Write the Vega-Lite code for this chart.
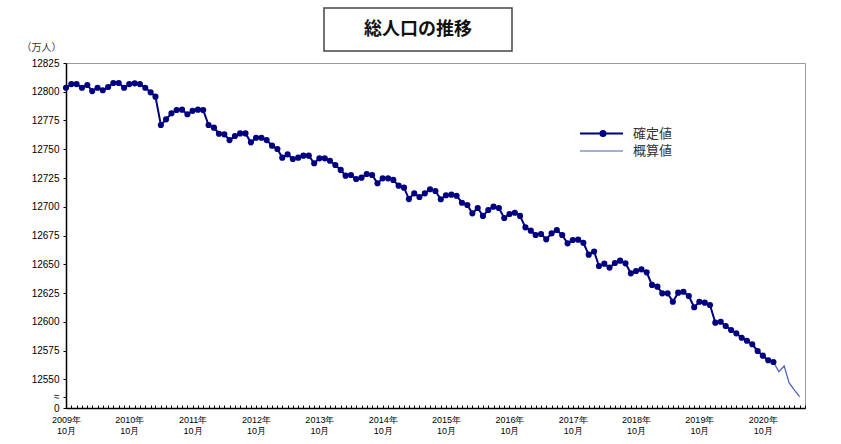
{
"$schema": "https://vega.github.io/schema/vega-lite/v6.json",
"padding": {"left": 20, "top": 7, "right": 5, "bottom": 5},
"background": "white",
"config": {"view": {"stroke": null}, "font": "Liberation Sans"},
"spacing": -11,
"vconcat": [
 {"hconcat": [
   {"width": 100, "height": 43, "data": {"values": [{"t": ""}]},
    "mark": {"type": "text", "fontSize": 10},
    "encoding": {"text": {"field": "t"}}},
   {"width": 188, "height": 43, "view": {"stroke": "#444", "strokeWidth": 1.5}, "data": {"values": [{"t": "総人口の推移"}]},
    "mark": {"type": "text", "fontSize": 18, "fontWeight": "bold", "font": "Noto Sans CJK JP", "color": "#111"},
    "encoding": {"text": {"field": "t"}}}
 ], "spacing": 157},
 {
  "width": 739, "height": 345,
  "view": {"stroke": "#9a9a9a"},
  "data": {"values": [
{"date":"2009-10-01","pop":12803.5,"series":"確定値"},
{"date":"2009-11-01","pop":12806.7,"series":"確定値"},
{"date":"2009-12-01","pop":12806.7,"series":"確定値"},
{"date":"2010-01-01","pop":12803.5,"series":"確定値"},
{"date":"2010-02-01","pop":12805.9,"series":"確定値"},
{"date":"2010-03-01","pop":12800.6,"series":"確定値"},
{"date":"2010-04-01","pop":12803.5,"series":"確定値"},
{"date":"2010-05-01","pop":12801.3,"series":"確定値"},
{"date":"2010-06-01","pop":12804.1,"series":"確定値"},
{"date":"2010-07-01","pop":12807.6,"series":"確定値"},
{"date":"2010-08-01","pop":12807.6,"series":"確定値"},
{"date":"2010-09-01","pop":12803.5,"series":"確定値"},
{"date":"2010-10-01","pop":12806.7,"series":"確定値"},
{"date":"2010-11-01","pop":12807.3,"series":"確定値"},
{"date":"2010-12-01","pop":12806.7,"series":"確定値"},
{"date":"2011-01-01","pop":12803.5,"series":"確定値"},
{"date":"2011-02-01","pop":12799.5,"series":"確定値"},
{"date":"2011-03-01","pop":12795.7,"series":"確定値"},
{"date":"2011-04-01","pop":12771.1,"series":"確定値"},
{"date":"2011-05-01","pop":12776.0,"series":"確定値"},
{"date":"2011-06-01","pop":12781.3,"series":"確定値"},
{"date":"2011-07-01","pop":12784.1,"series":"確定値"},
{"date":"2011-08-01","pop":12784.4,"series":"確定値"},
{"date":"2011-09-01","pop":12780.4,"series":"確定値"},
{"date":"2011-10-01","pop":12783.4,"series":"確定値"},
{"date":"2011-11-01","pop":12784.4,"series":"確定値"},
{"date":"2011-12-01","pop":12784.1,"series":"確定値"},
{"date":"2012-01-01","pop":12771.1,"series":"確定値"},
{"date":"2012-02-01","pop":12768.8,"series":"確定値"},
{"date":"2012-03-01","pop":12763.5,"series":"確定値"},
{"date":"2012-04-01","pop":12763.0,"series":"確定値"},
{"date":"2012-05-01","pop":12758.0,"series":"確定値"},
{"date":"2012-06-01","pop":12761.5,"series":"確定値"},
{"date":"2012-07-01","pop":12763.8,"series":"確定値"},
{"date":"2012-08-01","pop":12763.8,"series":"確定値"},
{"date":"2012-09-01","pop":12756.0,"series":"確定値"},
{"date":"2012-10-01","pop":12760.0,"series":"確定値"},
{"date":"2012-11-01","pop":12760.0,"series":"確定値"},
{"date":"2012-12-01","pop":12758.0,"series":"確定値"},
{"date":"2013-01-01","pop":12753.1,"series":"確定値"},
{"date":"2013-02-01","pop":12750.2,"series":"確定値"},
{"date":"2013-03-01","pop":12742.7,"series":"確定値"},
{"date":"2013-04-01","pop":12745.6,"series":"確定値"},
{"date":"2013-05-01","pop":12741.5,"series":"確定値"},
{"date":"2013-06-01","pop":12742.7,"series":"確定値"},
{"date":"2013-07-01","pop":12744.4,"series":"確定値"},
{"date":"2013-08-01","pop":12744.4,"series":"確定値"},
{"date":"2013-09-01","pop":12737.8,"series":"確定値"},
{"date":"2013-10-01","pop":12742.1,"series":"確定値"},
{"date":"2013-11-01","pop":12742.1,"series":"確定値"},
{"date":"2013-12-01","pop":12740.0,"series":"確定値"},
{"date":"2014-01-01","pop":12736.3,"series":"確定値"},
{"date":"2014-02-01","pop":12732.0,"series":"確定値"},
{"date":"2014-03-01","pop":12727.0,"series":"確定値"},
{"date":"2014-04-01","pop":12727.6,"series":"確定値"},
{"date":"2014-05-01","pop":12724.1,"series":"確定値"},
{"date":"2014-06-01","pop":12725.3,"series":"確定値"},
{"date":"2014-07-01","pop":12728.5,"series":"確定値"},
{"date":"2014-08-01","pop":12727.6,"series":"確定値"},
{"date":"2014-09-01","pop":12720.4,"series":"確定値"},
{"date":"2014-10-01","pop":12724.7,"series":"確定値"},
{"date":"2014-11-01","pop":12724.7,"series":"確定値"},
{"date":"2014-12-01","pop":12723.3,"series":"確定値"},
{"date":"2015-01-01","pop":12718.3,"series":"確定値"},
{"date":"2015-02-01","pop":12716.6,"series":"確定値"},
{"date":"2015-03-01","pop":12706.7,"series":"確定値"},
{"date":"2015-04-01","pop":12711.7,"series":"確定値"},
{"date":"2015-05-01","pop":12708.5,"series":"確定値"},
{"date":"2015-06-01","pop":12711.7,"series":"確定値"},
{"date":"2015-07-01","pop":12715.2,"series":"確定値"},
{"date":"2015-08-01","pop":12713.7,"series":"確定値"},
{"date":"2015-09-01","pop":12706.5,"series":"確定値"},
{"date":"2015-10-01","pop":12710.0,"series":"確定値"},
{"date":"2015-11-01","pop":12710.5,"series":"確定値"},
{"date":"2015-12-01","pop":12709.6,"series":"確定値"},
{"date":"2016-01-01","pop":12703.5,"series":"確定値"},
{"date":"2016-02-01","pop":12701.5,"series":"確定値"},
{"date":"2016-03-01","pop":12694.3,"series":"確定値"},
{"date":"2016-04-01","pop":12698.9,"series":"確定値"},
{"date":"2016-05-01","pop":12692.0,"series":"確定値"},
{"date":"2016-06-01","pop":12697.2,"series":"確定値"},
{"date":"2016-07-01","pop":12700.1,"series":"確定値"},
{"date":"2016-08-01","pop":12698.9,"series":"確定値"},
{"date":"2016-09-01","pop":12690.2,"series":"確定値"},
{"date":"2016-10-01","pop":12693.7,"series":"確定値"},
{"date":"2016-11-01","pop":12694.8,"series":"確定値"},
{"date":"2016-12-01","pop":12692.0,"series":"確定値"},
{"date":"2017-01-01","pop":12682.1,"series":"確定値"},
{"date":"2017-02-01","pop":12679.2,"series":"確定値"},
{"date":"2017-03-01","pop":12675.4,"series":"確定値"},
{"date":"2017-04-01","pop":12676.3,"series":"確定値"},
{"date":"2017-05-01","pop":12671.7,"series":"確定値"},
{"date":"2017-06-01","pop":12676.9,"series":"確定値"},
{"date":"2017-07-01","pop":12679.8,"series":"確定値"},
{"date":"2017-08-01","pop":12675.4,"series":"確定値"},
{"date":"2017-09-01","pop":12668.2,"series":"確定値"},
{"date":"2017-10-01","pop":12671.1,"series":"確定値"},
{"date":"2017-11-01","pop":12671.4,"series":"確定値"},
{"date":"2017-12-01","pop":12668.7,"series":"確定値"},
{"date":"2018-01-01","pop":12658.3,"series":"確定値"},
{"date":"2018-02-01","pop":12661.1,"series":"確定値"},
{"date":"2018-03-01","pop":12648.5,"series":"確定値"},
{"date":"2018-04-01","pop":12650.5,"series":"確定値"},
{"date":"2018-05-01","pop":12647.1,"series":"確定値"},
{"date":"2018-06-01","pop":12651.1,"series":"確定値"},
{"date":"2018-07-01","pop":12653.1,"series":"確定値"},
{"date":"2018-08-01","pop":12650.8,"series":"確定値"},
{"date":"2018-09-01","pop":12642.1,"series":"確定値"},
{"date":"2018-10-01","pop":12644.1,"series":"確定値"},
{"date":"2018-11-01","pop":12645.6,"series":"確定値"},
{"date":"2018-12-01","pop":12643.0,"series":"確定値"},
{"date":"2019-01-01","pop":12632.0,"series":"確定値"},
{"date":"2019-02-01","pop":12630.5,"series":"確定値"},
{"date":"2019-03-01","pop":12624.7,"series":"確定値"},
{"date":"2019-04-01","pop":12624.7,"series":"確定値"},
{"date":"2019-05-01","pop":12617.4,"series":"確定値"},
{"date":"2019-06-01","pop":12625.3,"series":"確定値"},
{"date":"2019-07-01","pop":12626.1,"series":"確定値"},
{"date":"2019-08-01","pop":12622.4,"series":"確定値"},
{"date":"2019-09-01","pop":12612.6,"series":"確定値"},
{"date":"2019-10-01","pop":12617.4,"series":"確定値"},
{"date":"2019-11-01","pop":12616.6,"series":"確定値"},
{"date":"2019-12-01","pop":12614.6,"series":"確定値"},
{"date":"2020-01-01","pop":12599.2,"series":"確定値"},
{"date":"2020-02-01","pop":12600.0,"series":"確定値"},
{"date":"2020-03-01","pop":12596.3,"series":"確定値"},
{"date":"2020-04-01","pop":12592.8,"series":"確定値"},
{"date":"2020-05-01","pop":12589.9,"series":"確定値"},
{"date":"2020-06-01","pop":12586.1,"series":"確定値"},
{"date":"2020-07-01","pop":12583.5,"series":"確定値"},
{"date":"2020-08-01","pop":12580.4,"series":"確定値"},
{"date":"2020-09-01","pop":12574.6,"series":"確定値"},
{"date":"2020-10-01","pop":12570.5,"series":"確定値"},
{"date":"2020-11-01","pop":12566.5,"series":"確定値"},
{"date":"2020-12-01","pop":12565.0,"series":"確定値"},
{"date":"2020-12-01","pop":12565.0,"series":"概算値"},
{"date":"2021-01-01","pop":12556.6,"series":"概算値"},
{"date":"2021-02-01","pop":12561.5,"series":"概算値"},
{"date":"2021-03-01","pop":12547.0,"series":"概算値"},
{"date":"2021-04-01","pop":12540.6,"series":"概算値"},
{"date":"2021-05-01","pop":12534.8,"series":"概算値"}
  ]},
  "encoding": {
   "x": {"field": "date", "type": "temporal",
     "scale": {"type": "utc", "domain": [{"year": 2009, "month": 10, "date": 1, "utc": true}, {"year": 2021, "month": 6, "date": 1, "utc": true}]},
     "axis": {"title": null, "grid": false, "tickCount": {"interval": "month", "step": 1}, "tickSize": -3, "tickColor": "#000", "domainColor": "#000", "domainWidth": 1.5,
       "labelExpr": "utcmonth(datum.value) == 9 ? [utcyear(datum.value) + '年', '10月'] : ''",
       "labelOverlap": false, "labelFlush": false, "labelBound": false, "labelPadding": 10, "labelFontSize": 9, "labelColor": "#000", "labelLineHeight": 11}},
   "y": {"field": "pop", "type": "quantitative",
     "scale": {"domain": [12525, 12825], "nice": false, "zero": false},
     "axis": {"title": "（万人）", "titleAngle": 0, "titleX": -25, "titleY": -16, "titleAlign": "center", "titleBaseline": "middle",
       "titleFontSize": 10, "titleFontWeight": "normal", "titleColor": "#333", "titleFont": "Noto Sans CJK JP",
       "grid": false,
       "values": [12525, 12535, 12550, 12575, 12600, 12625, 12650, 12675, 12700, 12725, 12750, 12775, 12800, 12825],
       "labelExpr": "datum.value == 12525 ? '0' : datum.value == 12535 ? '≈' : '' + datum.value",
       "tickSize": 3, "labelPadding": 4, "labelColor": "#000", "labelFontSize": 10,
       "domainColor": "#000", "domainWidth": 1.5, "tickColor": "#000", "labelOverlap": false}}
  },
  "layer": [
   {"mark": {"type": "line"},
    "encoding": {
     "color": {"field": "series", "type": "nominal", "scale": {"domain": ["確定値", "概算値"], "range": ["#000080", "#4c5cb4"]},
       "legend": {"title": null, "orient": "none", "legendX": 529, "legendY": 119, "padding": 0, "symbolSize": 100, "labelOffset": 25,
         "symbolType": "M-4.3,0H4.3",
         "labelFontSize": 13, "labelFont": "Noto Sans CJK JP", "labelColor": "#333", "rowPadding": 3.5, "symbolStrokeWidth": 2.5}},
     "strokeWidth": {"field": "series", "type": "nominal", "scale": {"domain": ["確定値", "概算値"], "range": [2, 1.2]}, "legend": null}
    }},
   {"transform": [{"filter": "datum.series == '確定値'"}],
    "mark": {"type": "point", "filled": true, "size": 38, "color": "#000080", "opacity": 1},
    "encoding": {
     "shape": {"field": "series", "type": "nominal", "scale": {"domain": ["確定値"], "range": ["circle"]},
       "legend": {"title": null, "orient": "none", "legendX": 530.5, "legendY": 119, "padding": 0, "symbolSize": 50,
         "symbolFillColor": "#000080", "symbolStrokeColor": "#000080", "symbolOpacity": 1, "labelExpr": "''", "labelFontSize": 13}}
    }}
  ]
 }
]
}
